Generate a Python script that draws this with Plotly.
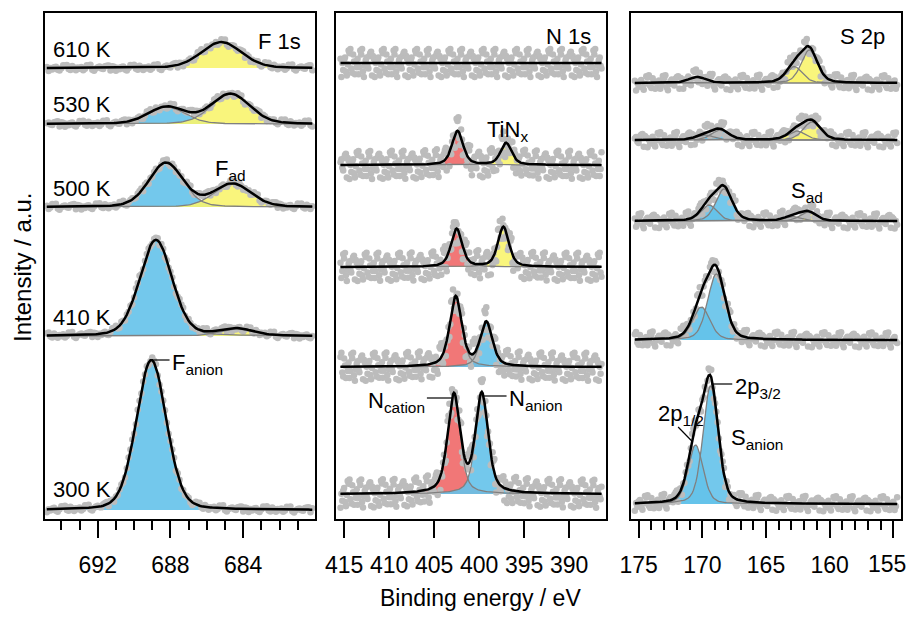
import numpy as np
import plotly.graph_objects as go

# ---------------- data ----------------
# F 1s panel: spectra (top to bottom) with fitted components (center eV, height a.u., FWHM eV, colour key)
F_labels = ["610 K", "530 K", "500 K", "410 K", "300 K"]
F_offsets = [451, 395, 312, 183, 9]
F_components = [
    [(685.2, 26, 2.6, "yellow")],
    [(688.2, 17, 2.4, "blue"), (684.7, 30, 2.5, "yellow")],
    [(688.25, 44, 2.2, "blue"), (684.6, 23, 2.4, "yellow")],
    [(688.8, 96, 2.1, "blue"), (684.4, 7, 2.2, "yellow")],
    [(689.05, 150, 1.95, "blue")],
]
F_energy = (694.8, 680.2, 0.1)

# N 1s panel
N_offsets = [456, 354, 252, 152, 25]
N_components = [
    [],
    [(402.4, 34, 1.45, "red"), (397.0, 22, 1.45, "yellow")],
    [(402.5, 38, 1.45, "red"), (397.3, 40, 1.45, "yellow")],
    [(402.6, 70, 1.6, "red"), (399.2, 44, 1.6, "blue")],
    [(402.8, 98, 1.65, "red"), (399.7, 99, 1.65, "blue")],
]
N_energy = (415.4, 386.4, 0.1)

# S 2p panel (2p3/2 and 2p1/2 doublet components)
S_offsets = [436, 379, 298, 179, 15]
S_components = [
    [(170.4, 6, 1.6, None), (161.6, 33, 1.5, "yellow"), (162.78, 16.5, 1.5, "yellow")],
    [(168.6, 10, 1.6, "blue"), (169.78, 5, 1.6, "blue"), (161.4, 18, 1.6, "yellow"), (162.58, 9, 1.6, "yellow")],
    [(168.3, 32, 1.5, "blue"), (169.48, 16, 1.5, "blue"), (161.7, 9, 1.5, "yellow"), (162.88, 4.5, 1.5, "yellow")],
    [(168.9, 66, 1.6, "blue"), (170.08, 33, 1.6, "blue")],
    [(169.35, 118, 1.4, "blue"), (170.53, 59, 1.4, "blue")],
]
S_energy = (175.3, 154.7, 0.1)

# measured-point scatter about the fit (hand-read residual pattern, scaled per panel)
residual_pattern = [0.3, -0.8, 0.5, 1.0, -0.2, -0.6, 0.9, -1.0, 0.1, 0.7, -0.4, 0.2, -0.9,
                    0.6, 0.0, -0.3, 0.8, -0.7, 0.4, -0.1, 1.0, -0.5, 0.3, -0.9, 0.6, -0.2,
                    0.9, -0.6, 0.2, -0.8, 0.5, 0.1, -0.4, 0.7, -1.0, 0.4, -0.3]
noise_scale = {"F": 3.0, "N": 14.0, "S": 7.5}
lorentz_frac = {"F": 0.2, "N": 0.5, "S": 0.3}

# axis ticks
F_major = [692, 688, 684]
N_major = [415, 410, 405, 400, 395, 390]
S_major = [175, 170, 165, 160, 155]
S_ticktext = ["175", "170", "165", "160", ""]   # last label drawn separately so it stays inside the page

colors = {"blue": "rgba(100,194,234,0.9)", "yellow": "rgba(248,244,110,0.9)", "red": "rgba(240,104,104,0.9)"}

# ---------------- figure ----------------
PAGE_OFF = 8            # page body margin of the browser
W, H = 916 - 2 * PAGE_OFF, 619 - 2 * PAGE_OFF

def px(x):   # screen px -> paper x
    return (x - PAGE_OFF) / W

def py(y):   # screen px (from top) -> paper y
    return 1 - (y - PAGE_OFF) / H

fig = go.Figure()

def pv(x, c, h, w, eta):
    d = (x - c) / w
    return h * (eta / (1 + 4 * d * d) + (1 - eta) * np.exp(-4 * np.log(2) * d * d))

panels = [
    ("F", F_offsets, F_components, F_energy, "x", "y"),
    ("N", N_offsets, N_components, N_energy, "x2", "y2"),
    ("S", S_offsets, S_components, S_energy, "x3", "y3"),
]

for key, offs, comps, (e0, e1, st), xa, ya in panels:
    E = np.arange(e0, e1 - 1e-9, -st)
    eta = lorentz_frac[key]
    dots, lines = [], []
    for si, (off, cl) in enumerate(zip(offs, comps)):
        env = np.zeros_like(E)
        for (c, h, w, col) in cl:
            comp = pv(E, c, h, w, eta)
            env += comp
            if col is not None:
                fig.add_trace(go.Scatter(x=np.concatenate([E, E[::-1]]),
                                         y=np.concatenate([off + comp, np.full_like(E, off)]),
                                         fill="toself", fillcolor=colors[col], mode="none",
                                         xaxis=xa, yaxis=ya, hoverinfo="skip", showlegend=False))
            lines.append(("comp", E, off + comp))
        n = len(residual_pattern)
        res = np.array([residual_pattern[(i * 7 + si * 11) % n] for i in range(len(E))])
        dots.append((E, off + env + res * noise_scale[key]))
        lines.append(("env", E, off + env))
    for (Ex, yy) in dots:
        fig.add_trace(go.Scatter(x=Ex, y=yy, mode="markers",
                                 marker=dict(size=6.5, color="rgb(188,188,188)"),
                                 xaxis=xa, yaxis=ya, hoverinfo="skip", showlegend=False))
    for kind, Ex, yy in lines:
        if kind == "env":
            fig.add_trace(go.Scatter(x=Ex, y=yy, mode="lines",
                                     line=dict(color="black", width=2.5),
                                     xaxis=xa, yaxis=ya, hoverinfo="skip", showlegend=False))
        else:
            fig.add_trace(go.Scatter(x=Ex, y=yy, mode="lines",
                                     line=dict(color="rgb(128,128,128)", width=1.3),
                                     xaxis=xa, yaxis=ya, hoverinfo="skip", showlegend=False))

ydom = [py(519), py(13)]
FONT = "Liberation Sans, Arial, sans-serif"
tickfont = dict(family=FONT, size=23, color="black")
axis_common = dict(showline=True, mirror=True, linecolor="black", linewidth=2,
                   showgrid=False, zeroline=False, ticks="outside", tickwidth=2,
                   ticklen=17, tickcolor="black", tickfont=tickfont, ticklabelstandoff=7,
                   ticklabeloverflow="allow")
yax = dict(range=[0, 506], domain=ydom, showline=True, mirror=True, linecolor="black",
           linewidth=2, showgrid=False, zeroline=False, showticklabels=False, ticks="")
minor = dict(dtick=1, tick0=0, ticklen=9, tickwidth=2, ticks="outside", tickcolor="black")

fig.update_layout(
    width=W, height=H, margin=dict(l=0, r=0, t=0, b=0, autoexpand=False),
    paper_bgcolor="white", plot_bgcolor="white", showlegend=False,
    font=dict(family=FONT, color="black"),
    xaxis=dict(domain=[px(45), px(315)], range=[694.9, 680.05], tickvals=F_major,
               minor=minor, anchor="y", **axis_common),
    xaxis2=dict(domain=[px(336), px(606)], range=[415.9, 385.9], tickvals=N_major,
                anchor="y2", **axis_common),
    xaxis3=dict(domain=[px(631), px(901)], range=[175.6, 154.4], tickvals=S_major,
                ticktext=S_ticktext, minor=minor, anchor="y3", **axis_common),
    yaxis=dict(anchor="x", **yax),
    yaxis2=dict(anchor="x2", **yax),
    yaxis3=dict(anchor="x3", **yax),
)

lab = dict(family=FONT, size=22, color="black")
ann = []
label_y = [469, 414, 330, 202, 30]
for t, yv in zip(F_labels, label_y):
    ann.append(dict(x=694.55, y=yv, xref="x", yref="y", text=t, showarrow=False,
                    xanchor="left", yanchor="middle", font=lab))
ann += [
    dict(x=680.7, y=477, xref="x", yref="y", text="F 1s", showarrow=False, xanchor="right", yanchor="middle", font=lab),
    dict(x=387.3, y=482, xref="x2", yref="y2", text="N 1s", showarrow=False, xanchor="right", yanchor="middle", font=lab),
    dict(x=155.5, y=482, xref="x3", yref="y3", text="S 2p", showarrow=False, xanchor="right", yanchor="middle", font=lab),
    dict(x=684.7, y=349, xref="x", yref="y", text="F<sub>ad</sub>", showarrow=False, xanchor="center", yanchor="middle", font=lab),
    dict(x=688.0, y=155, xref="x", yref="y", text="F<sub>anion</sub>", showarrow=False, xanchor="left", yanchor="middle", font=lab),
    dict(x=396.8, y=388, xref="x2", yref="y2", text="TiN<sub>x</sub>", showarrow=False, xanchor="center", yanchor="middle", font=lab),
    dict(x=405.8, y=117, xref="x2", yref="y2", text="N<sub>cation</sub>", showarrow=False, xanchor="right", yanchor="middle", font=lab),
    dict(x=396.9, y=119, xref="x2", yref="y2", text="N<sub>anion</sub>", showarrow=False, xanchor="left", yanchor="middle", font=lab),
    dict(x=161.8, y=327, xref="x3", yref="y3", text="S<sub>ad</sub>", showarrow=False, xanchor="center", yanchor="middle", font=lab),
    dict(x=167.6, y=131, xref="x3", yref="y3", text="2p<sub>3/2</sub>", showarrow=False, xanchor="left", yanchor="middle", font=lab),
    dict(x=171.7, y=104, xref="x3", yref="y3", text="2p<sub>1/2</sub>", showarrow=False, xanchor="center", yanchor="middle", font=lab),
    dict(x=167.9, y=80, xref="x3", yref="y3", text="S<sub>anion</sub>", showarrow=False, xanchor="left", yanchor="middle", font=lab),
    dict(x=1.0, y=py(564), xref="paper", yref="paper", text=str(S_major[-1]), showarrow=False,
         xanchor="right", yanchor="middle", font=tickfont),
    dict(x=px(480), y=py(598), xref="paper", yref="paper", text="Binding energy / eV", showarrow=False,
         xanchor="center", yanchor="middle", font=dict(family=FONT, size=23, color="black")),
    dict(x=px(22), y=py(268), xref="paper", yref="paper", text="Intensity / a.u.", showarrow=False,
         textangle=-90, xanchor="center", yanchor="middle", font=dict(family=FONT, size=24, color="black")),
]
fig.update_layout(annotations=ann)

leaders = [
    ("x", "y", 688.95, 159, 688.05, 159),
    ("x2", "y2", 405.8, 121, 403.0, 121),
    ("x2", "y2", 399.6, 123, 396.95, 123),
    ("x3", "y3", 169.3, 135, 167.65, 135),
    ("x3", "y3", 171.9, 92, 170.75, 77),
]
for xr, yr, x0, y0, x1, y1 in leaders:
    fig.add_shape(type="line", xref=xr, yref=yr, x0=x0, y0=y0, x1=x1, y1=y1,
                  line=dict(color="black", width=1.2))

fig.write_html("out.html")
